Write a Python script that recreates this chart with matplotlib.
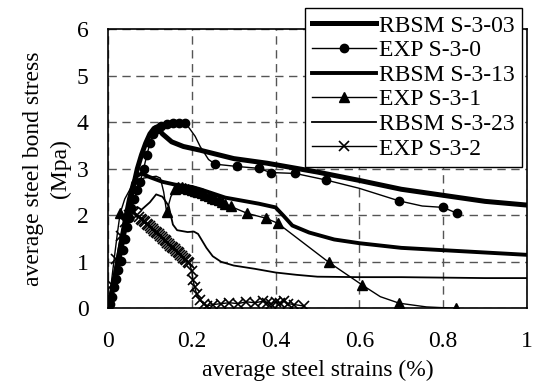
import matplotlib
matplotlib.use("Agg")
import matplotlib.pyplot as plt

plt.rcParams['font.family'] = ['Liberation Serif', 'DejaVu Serif']

# RBSM S-3-03
x_r03 = [0, 0.01, 0.02, 0.03, 0.04, 0.05, 0.06, 0.07, 0.08, 0.09, 0.1, 0.11, 0.117,
         0.13, 0.152, 0.18, 0.22, 0.3, 0.38, 0.5, 0.6, 0.7, 0.8, 0.9, 1.0]
y_r03 = [0, 0.35, 0.8, 1.25, 1.75, 2.2, 2.6, 3.0, 3.3, 3.55, 3.75, 3.87, 3.9,
         3.75, 3.58, 3.48, 3.4, 3.22, 3.12, 2.93, 2.75, 2.56, 2.43, 2.3, 2.22]

# EXP S-3-0
x_e0 = [0, 0.005, 0.01, 0.015, 0.02, 0.025, 0.03, 0.035, 0.04, 0.045, 0.05, 0.056,
        0.063, 0.07, 0.077, 0.085, 0.093, 0.1, 0.108, 0.117, 0.127, 0.14, 0.155,
        0.17, 0.184, 0.192, 0.208, 0.22, 0.24, 0.256, 0.308, 0.36, 0.388, 0.447,
        0.52, 0.6, 0.695, 0.75, 0.80, 0.834]
y_e0 = [0, 0.1, 0.25, 0.45, 0.62, 0.82, 1.02, 1.25, 1.48, 1.75, 1.95, 2.15,
        2.35, 2.55, 2.72, 3.0, 3.3, 3.55, 3.75, 3.85, 3.92, 3.96, 3.98,
        3.99, 3.98, 3.9, 3.7, 3.48, 3.2, 3.1, 3.05, 3.01, 2.92, 2.9,
        2.76, 2.58, 2.31, 2.2, 2.17, 2.04]
mk_e0 = [i for i in range(len(x_e0)) if i not in (25, 26, 27, 28, 35, 37)]

# RBSM S-3-13
x_r13 = [0, 0.01, 0.02, 0.03, 0.04, 0.05, 0.06, 0.07, 0.08, 0.1, 0.13, 0.16, 0.2,
         0.22, 0.28, 0.36, 0.4, 0.42, 0.44, 0.48, 0.54, 0.6, 0.7, 0.8, 0.9, 1.0]
y_r13 = [0, 0.4, 0.9, 1.4, 1.9, 2.35, 2.7, 2.85, 2.9, 2.82, 2.72, 2.66, 2.61,
         2.56, 2.38, 2.25, 2.17, 1.98, 1.78, 1.63, 1.48, 1.4, 1.3, 1.25, 1.2, 1.15]

# EXP S-3-1
x_e1 = [0, 0.008, 0.016, 0.023, 0.029, 0.04, 0.055, 0.07, 0.085, 0.1, 0.115, 0.125,
        0.133, 0.14, 0.15, 0.16, 0.168, 0.176, 0.184, 0.192, 0.2, 0.208, 0.216,
        0.224, 0.232, 0.24, 0.248, 0.256, 0.264, 0.272, 0.28, 0.293, 0.333, 0.376,
        0.405, 0.527, 0.607, 0.65, 0.695, 0.76, 0.83]
y_e1 = [0, 0.55, 1.15, 1.65, 2.04, 2.35, 2.6, 2.72, 2.8, 2.82, 2.84, 2.8,
        2.5, 2.07, 2.4, 2.56, 2.6, 2.6, 2.58, 2.56, 2.55, 2.52, 2.5,
        2.47, 2.44, 2.41, 2.38, 2.35, 2.32, 2.28, 2.25, 2.19, 2.04, 1.94,
        1.83, 0.99, 0.5, 0.25, 0.11, 0.03, 0.0]
mk_e1 = [4, 13] + list(range(15, 37)) + [38, 40]

# RBSM S-3-23
x_r23 = [0, 0.01, 0.02, 0.03, 0.04, 0.055, 0.07, 0.08, 0.09, 0.1, 0.115, 0.13, 0.145,
         0.155, 0.165, 0.19, 0.205, 0.215, 0.235, 0.25, 0.27, 0.3, 0.35, 0.4, 0.45,
         0.5, 0.6, 0.7, 0.8, 0.9, 1.0]
y_r23 = [0, 0.4, 0.9, 1.4, 1.8, 2.1, 2.18, 2.12, 2.2, 2.28, 2.45, 2.4, 2.2,
         1.8, 1.68, 1.64, 1.65, 1.6, 1.3, 1.12, 1.0, 0.92, 0.85, 0.77, 0.72,
         0.68, 0.67, 0.67, 0.66, 0.65, 0.65]

# EXP S-3-2
x_e2 = [0, 0.01, 0.02, 0.03, 0.04, 0.05, 0.06, 0.07, 0.075, 0.079, 0.082, 0.086,
        0.089, 0.093, 0.096, 0.1, 0.103, 0.107, 0.11, 0.114, 0.117, 0.121, 0.124,
        0.128, 0.131, 0.135, 0.138, 0.142, 0.145, 0.149, 0.152, 0.156, 0.159,
        0.163, 0.166, 0.17, 0.173, 0.177, 0.18, 0.184, 0.187, 0.191, 0.194,
        0.2, 0.203, 0.207, 0.212, 0.22, 0.228, 0.236, 0.25,
        0.27, 0.29, 0.31, 0.33, 0.35, 0.37, 0.38, 0.39, 0.4, 0.41, 0.42, 0.43,
        0.445, 0.467]
y_e2 = [0, 0.5, 1.05, 1.55, 1.85, 2.0, 2.04, 2.0, 1.96, 1.92, 1.9, 1.87,
        1.85, 1.82, 1.79, 1.76, 1.73, 1.7, 1.67, 1.65, 1.62, 1.59, 1.56,
        1.53, 1.5, 1.47, 1.44, 1.41, 1.38, 1.35, 1.32, 1.3, 1.27,
        1.24, 1.21, 1.18, 1.15, 1.12, 1.09, 1.06, 1.03, 1.0, 0.98,
        0.8, 0.6, 0.45, 0.3, 0.18, 0.1, 0.05, 0.08,
        0.1, 0.12, 0.1, 0.14, 0.12, 0.15, 0.12, 0.1, 0.14, 0.12, 0.15, 0.1,
        0.08, 0.05]

xticks = [0, 0.2, 0.4, 0.6, 0.8, 1]
xticklabels = ['0', '0.2', '0.4', '0.6', '0.8', '1']
yticks = [0, 1, 2, 3, 4, 5, 6]

fig = plt.figure(figsize=(5.34, 3.85), dpi=100)
ax = fig.add_axes([0.2022, 0.1992, 0.7846, 0.7247])

ax.plot(x_r03, y_r03, color='black', lw=3.6, label='RBSM S-3-03', zorder=3)
ax.plot(x_e0, y_e0, color='black', lw=1.0, marker='o', ms=6, markevery=mk_e0,
        label='EXP S-3-0', zorder=4)
ax.plot(x_r13, y_r13, color='black', lw=2.8, label='RBSM S-3-13', zorder=3)
ax.plot(x_e1, y_e1, color='black', lw=1.0, marker='^', ms=7, markevery=mk_e1,
        label='EXP S-3-1', zorder=4)
ax.plot(x_r23, y_r23, color='black', lw=1.3, label='RBSM S-3-23', zorder=3)
ax.plot(x_e2, y_e2, color='black', lw=1.0, marker='x', ms=7, mew=1.2,
        label='EXP S-3-2', zorder=4)

ax.set_xlim(0, 1)
ax.set_ylim(0, 6)
ax.set_xticks(xticks)
ax.set_xticklabels(xticklabels)
ax.set_yticks(yticks)
ax.tick_params(length=0, labelsize=17)
ax.tick_params(axis='x', pad=16)
ax.tick_params(axis='y', pad=14)
ax.grid(True, color='#555555', ls=(0, (6, 4)), lw=1.0)
for s in ax.spines.values():
    s.set_linewidth(1.2)
    s.set_color('black')

ax.set_xlabel('average steel strains (%)', fontsize=17, labelpad=6)
ax.set_ylabel('average steel bond stress\n(Mpa)', fontsize=17, labelpad=4,
              linespacing=1.35)

leg = ax.legend(loc='upper right', bbox_to_anchor=(522 / 534, 1 - 8 / 385),
                bbox_transform=fig.transFigure, borderaxespad=0, fontsize=17,
                frameon=True, fancybox=False, framealpha=1, edgecolor='black',
                handlelength=2.7, labelspacing=0.13, borderpad=0.3,
                handletextpad=0.15)
leg.get_frame().set_linewidth(1.0)
leg.set_zorder(10)

fig.savefig('out.png', dpi=100)
